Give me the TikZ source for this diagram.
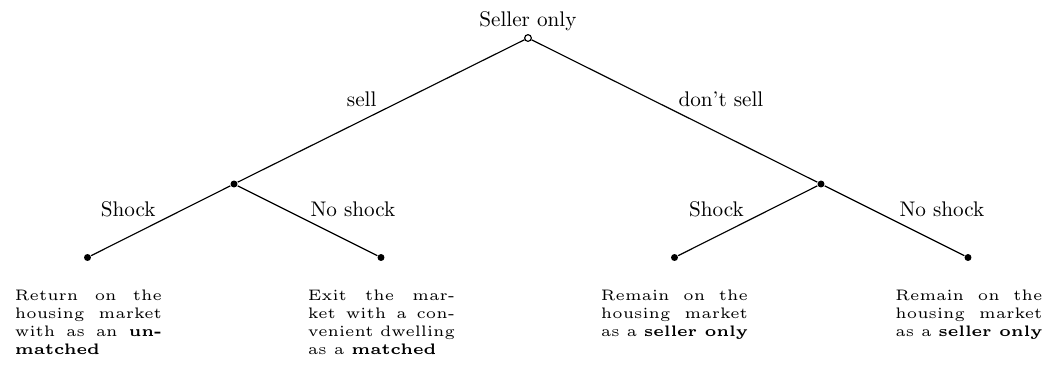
\documentclass[tikz,border=0pt]{standalone}
\hbadness=10000
\font\leafrm=cmr5 at 5.25pt
\font\leafbf=cmbx5 at 5.25pt
\font\lblrm=cmr10 at 7.3pt
\begin{document}
\begin{tikzpicture}[x=0.34483pt,y=-0.34483pt,
  rootdot/.style={circle,draw,fill=white,inner sep=0pt,minimum size=2.3pt,line width=0.4pt},
  fulldot/.style={circle,fill=black,inner sep=0pt,minimum size=2.4pt},
  branch/.style={draw,line width=0.4pt},
  lbl/.style={font=\lblrm,inner sep=0pt,anchor=base},
  leaftext/.style={font={\leafrm\baselineskip=6.2pt},text width=50.7pt,align=justify,inner sep=0pt,anchor=north}]
\useasboundingbox (0,0) rectangle (1060,372);
% tree nodes
\node[rootdot] (r) at (528,38) {};
\node[fulldot] (a) at (234,184) {};
\node[fulldot] (b) at (821,184) {};
\node[fulldot] (a1) at (87.5,257.5) {};
\node[fulldot] (a2) at (381,257.5) {};
\node[fulldot] (b1) at (674.5,257.5) {};
\node[fulldot] (b2) at (968,257.5) {};
% branches
\draw[branch] (r) -- (a);
\draw[branch] (r) -- (b);
\draw[branch] (a) -- (a1);
\draw[branch] (a) -- (a2);
\draw[branch] (b) -- (b1);
\draw[branch] (b) -- (b2);
% labels
\node[lbl] (top) at (528,26.7) {Seller only};
\node[lbl] (l1) at (361.7,106.7) {sell};
\node[lbl] (l2) at (721,106.7) {don't sell};
\node[lbl] (l3) at (128.3,216) {Shock};
\node[lbl] (l4) at (353,216) {No shock};
\node[lbl] (l5) at (716.5,216) {Shock};
\node[lbl] (l6) at (942,216) {No shock};
% leaf texts
\node[leaftext] (t1) at (88.5,289) {Return on the\linebreak housing market\linebreak with as an {\leafbf un-}\linebreak {\leafbf matched}};
\node[leaftext] (t2) at (381.5,289) {Exit the mar-\linebreak ket with a con-\linebreak venient dwelling\linebreak as a {\leafbf matched}};
\node[leaftext] (t3) at (674.5,289) {Remain on the\linebreak housing market\linebreak as a {\leafbf seller only}};
\node[leaftext] (t4) at (969,289) {Remain on the\linebreak housing market\linebreak as a {\leafbf seller only}};
\end{tikzpicture}
\end{document}
